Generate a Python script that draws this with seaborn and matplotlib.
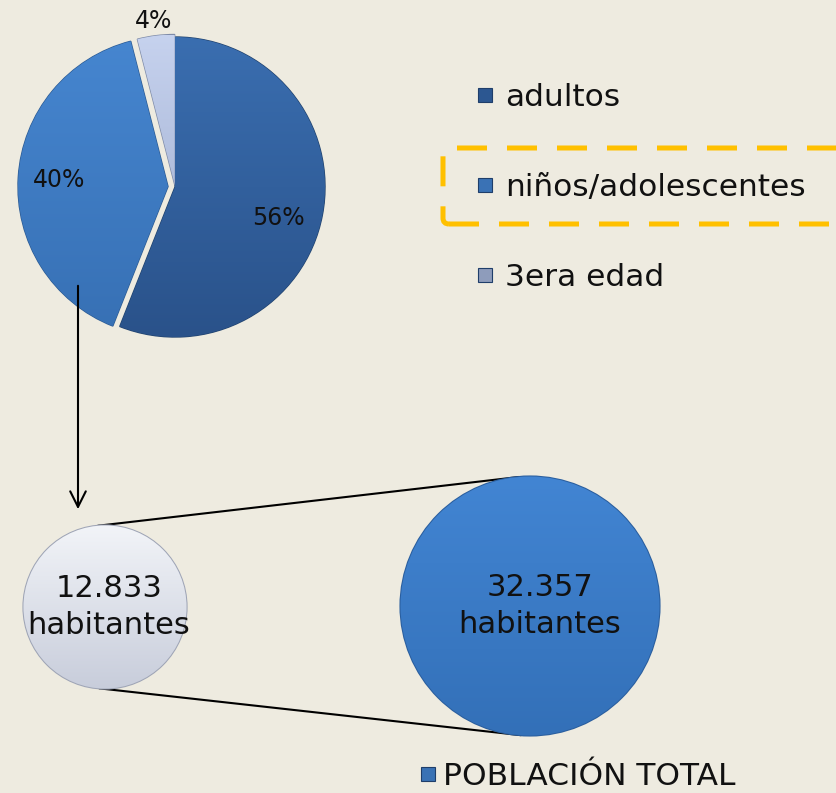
import numpy as np
import matplotlib
matplotlib.use("Agg")
import matplotlib.pyplot as plt
from matplotlib.patches import Circle, FancyBboxPatch, FancyArrowPatch
from matplotlib.lines import Line2D
from matplotlib.colors import LinearSegmentedColormap
import seaborn as sns

# Age distribution of the population (percent)
age_groups = ["adultos", "niños/adolescentes", "3era edad"]
age_shares = [56, 40, 4]
# (top, bottom) shading of each slice
age_shades = [("#3A6EB0", "#2A528A"), ("#4686D0", "#3770B4"), ("#C6D2EE", "#98A7CA")]
legend_colors = ["#2C5791", "#3A72B5", "#8E9CBB"]

# Population bubbles: selected group vs. total
bubble_values = [12833, 32357]
bubble_labels = ["12.833\nhabitantes", "32.357\nhabitantes"]
bubble_shades = [("#F2F4F8", "#C8CDDB"), ("#4285D3", "#3370B8")]
total_label = "POBLACIÓN TOTAL"

BG = "#EEEBE0"
TXT = "#111111"
sns.set_theme(style="white", rc={"figure.facecolor": BG, "axes.facecolor": BG})
plt.rcParams["font.family"] = ["DejaVu Sans"]

W, H = 837, 793
fig = plt.figure(figsize=(W / 100, H / 100), dpi=100)
ax = fig.add_axes([0, 0, 1, 1])


def py(y):
    return H - y


def shade(patch, top, bottom, extent, z):
    """Fill a patch with a vertical gradient clipped to its outline."""
    cmap = LinearSegmentedColormap.from_list("shade", [bottom, top])
    grad = np.linspace(0, 1, 256).reshape(-1, 1)
    im = ax.imshow(grad, extent=extent, origin="lower", cmap=cmap,
                   aspect="auto", interpolation="bicubic", zorder=z)
    im.set_clip_path(patch)


# --- pie of age groups ---
pie_center = (175, py(187))
pie_r = 150
explode = [0, 7, 2.5]
wedges, texts, autotexts = ax.pie(
    age_shares, colors=[s[1] for s in age_shades], startangle=90, counterclock=False,
    center=pie_center, radius=pie_r, explode=explode,
    autopct=lambda p: f"{p:.0f}%", pctdistance=0.72,
    textprops=dict(fontsize=17, color=TXT),
    wedgeprops=dict(linewidth=1.0), frame=True)

edge_dark = ["#22446F", "#2D5C94", "#7E8BA8"]
for w, (top, bot), ec in zip(wedges, age_shades, edge_dark):
    w.set_edgecolor(ec)
    w.set_zorder(1)
    cx, cy = w.center
    shade(w, top, bot, (cx - pie_r, cx + pie_r, cy - pie_r, cy + pie_r), 1.5)

# label placement: (distance as fraction of radius, angular nudge in degrees)
label_place = [(0.72, -6), (0.73, 0), (1.10, 0)]
for w, t, (dist, nudge) in zip(wedges, autotexts, label_place):
    mid = np.deg2rad((w.theta1 + w.theta2) / 2 + nudge)
    t.set_position((w.center[0] + dist * pie_r * np.cos(mid),
                    w.center[1] + dist * pie_r * np.sin(mid)))
    t.set_zorder(5)

# --- arrow from pie to bubbles ---
ax.add_patch(FancyArrowPatch((78, py(283)), (78, py(512)), arrowstyle="->",
                             mutation_scale=28, lw=1.5, color="black", zorder=6))

# --- bubbles, area proportional to population ---
k = 0.72
bubble_centers = [(105, py(607)), (530, py(606))]
radii = [k * np.sqrt(v) for v in bubble_values]

(cx0, cy0), (cx1, cy1) = bubble_centers
for a in (95, 266):
    t = np.deg2rad(a)
    ax.plot([cx0 + radii[0] * np.cos(t), cx1 + radii[1] * np.cos(t)],
            [cy0 + radii[0] * np.sin(t), cy1 + radii[1] * np.sin(t)],
            color="black", lw=1.5, zorder=1)

edge_cols = ["#9FA5B6", "#2A5E9E"]
for (cx, cy), r, (top, bot), ec in zip(bubble_centers, radii, bubble_shades, edge_cols):
    c = Circle((cx, cy), r, facecolor=bot, edgecolor=ec, lw=1.5, zorder=2)
    ax.add_patch(c)
    shade(c, top, bot, (cx - r, cx + r, cy - r, cy + r), 2.5)
dx = [4, 10]
for (cx, cy), lab, d in zip(bubble_centers, bubble_labels, dx):
    ax.text(cx + d, cy, lab, ha="center", va="center", fontsize=22,
            color=TXT, linespacing=1.32, zorder=5)

# --- legends ---
handles = [Line2D([], [], marker="s", ls="", markersize=10, markerfacecolor=c,
                  markeredgecolor="#1F3E6A", markeredgewidth=0.8) for c in legend_colors]
leg = ax.legend(handles, age_groups, loc="upper left",
                bbox_to_anchor=(476 / W, 1 - 83 / H), frameon=False, fontsize=22.5,
                labelspacing=1.95, handlelength=0.6, handletextpad=0.33,
                borderpad=0, borderaxespad=0, labelcolor=TXT)
leg.set_zorder(6)
ax.add_artist(leg)

tot_handle = Line2D([], [], marker="s", ls="", markersize=10, markerfacecolor="#3A72B5",
                    markeredgecolor="#1F3E6A", markeredgewidth=0.8)
leg2 = ax.legend([tot_handle], [total_label], loc="upper left",
                 bbox_to_anchor=(419 / W, 1 - 762 / H), frameon=False, fontsize=22.5,
                 handlelength=0.6, handletextpad=0.18, borderpad=0, borderaxespad=0,
                 labelcolor=TXT)
leg2.set_zorder(6)

# dashed highlight around the second legend entry
ax.add_patch(FancyBboxPatch((443, py(224)), 420, 76,
                            boxstyle="round,pad=0,rounding_size=6", fill=False,
                            ec="#FFC000", lw=3.6, ls=(0, (6, 4)), zorder=4))

ax.set_xlim(0, W)
ax.set_ylim(0, H)
ax.set_aspect("equal")
ax.axis("off")

fig.savefig("out.png", dpi=100, facecolor=BG)
